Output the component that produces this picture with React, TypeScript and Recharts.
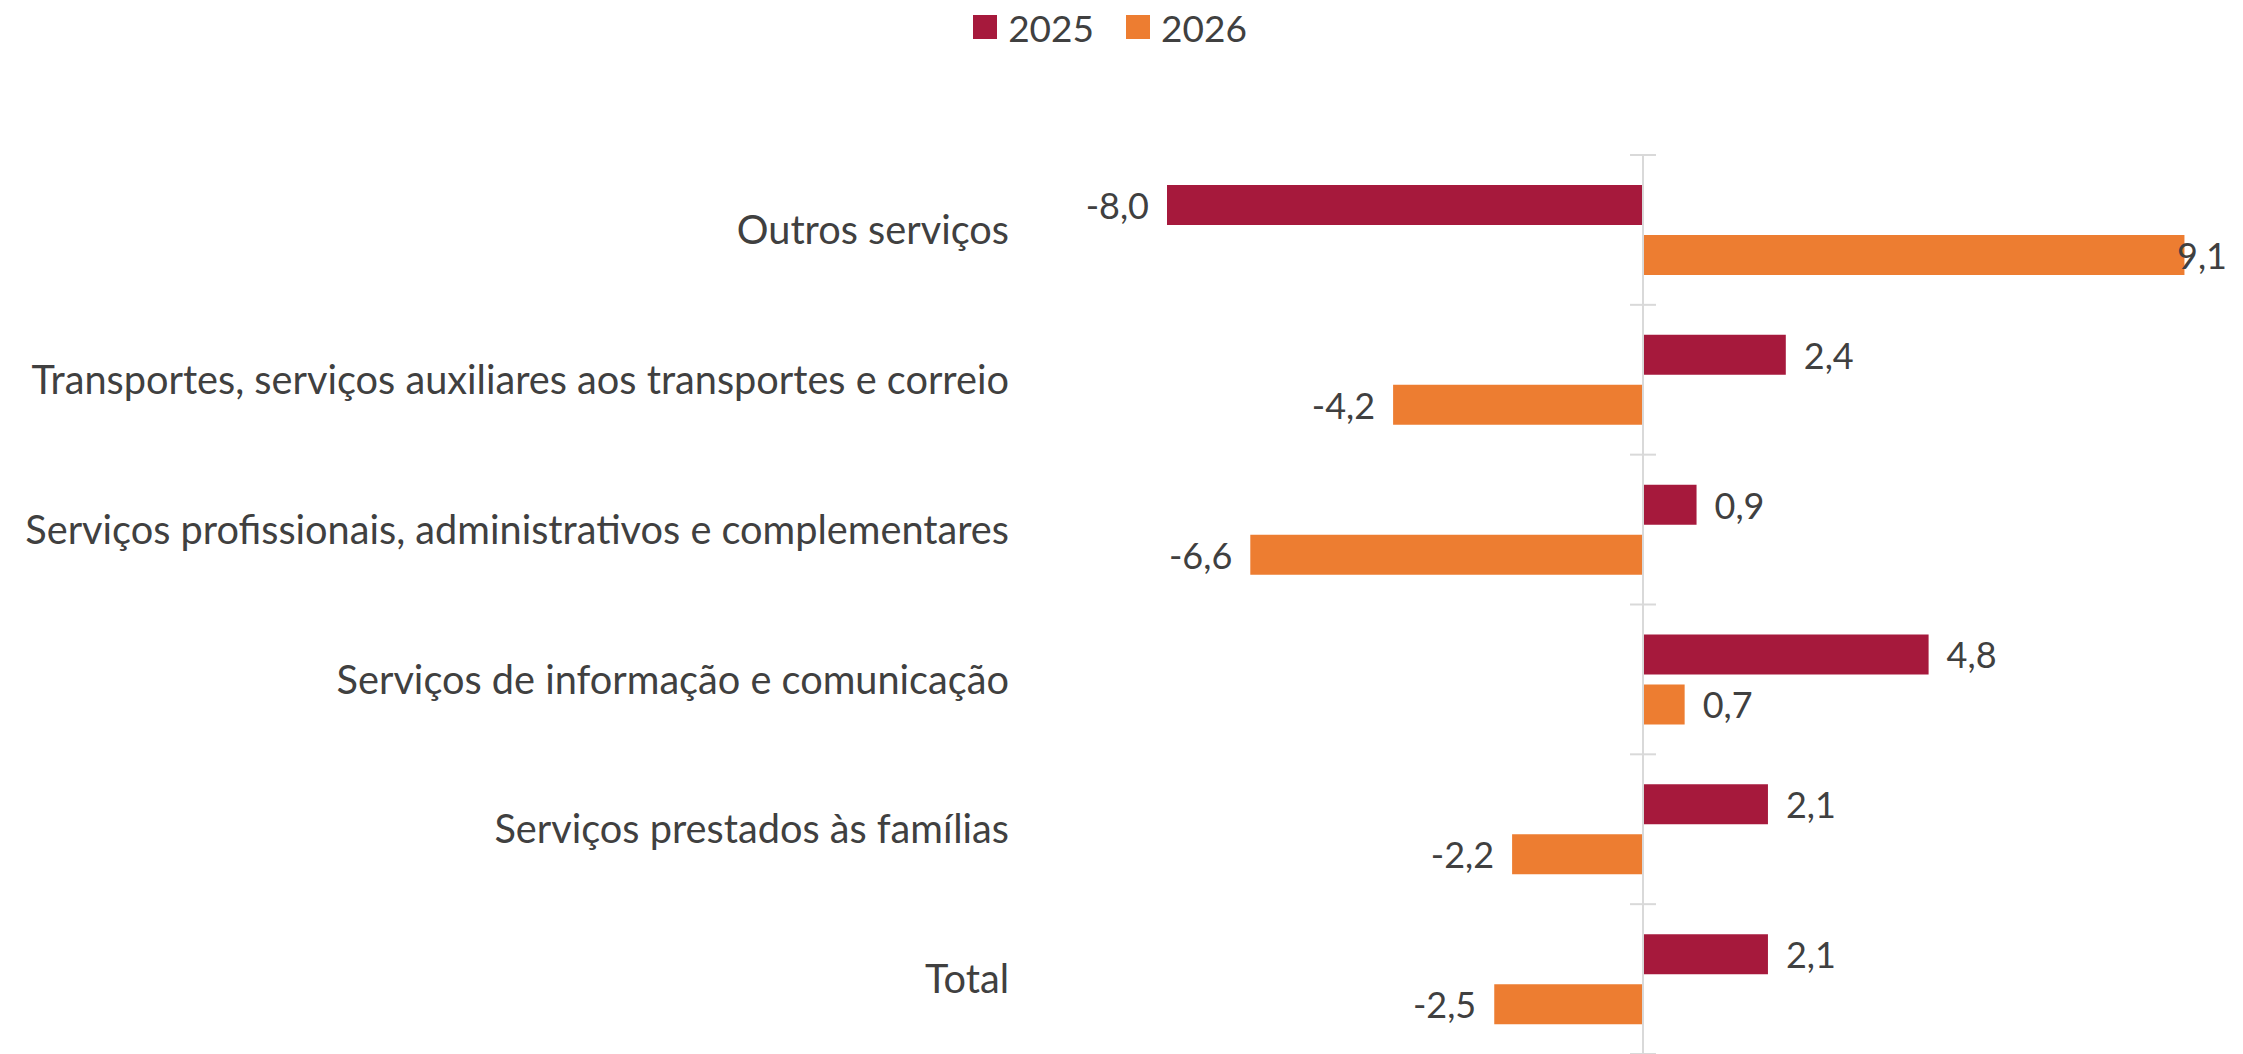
import { BarChart, Bar, XAxis, YAxis, Legend, LabelList, ReferenceLine } from "recharts";

const categories = [
  "Outros serviços",
  "Transportes, serviços auxiliares aos transportes e correio",
  "Serviços profissionais, administrativos e complementares",
  "Serviços de informação e comunicação",
  "Serviços prestados às famílias",
  "Total",
];
const values2025 = [-8.0, 2.4, 0.9, 4.8, 2.1, 2.1];
const values2026 = [9.1, -4.2, -6.6, 0.7, -2.2, -2.5];
const seriesNames = ["2025", "2026"];

const CHART_W = 2243;
const CHART_H = 1054;
const TEXT = "#404040";
const FONT = "Lato, 'Open Sans', sans-serif";
const RED = "#A6193C";
const ORANGE = "#ED7D31";
const AXIS = "#d9d9d9";

const data = categories.map((name, i) => ({
  name,
  v2025: values2025[i],
  v2026: values2026[i],
}));

const fmt = (v: number) => v.toFixed(1).replace(".", ",");

// value label next to the bar end; pulled back inside the chart when it would overflow
function ValueLabel(props: any) {
  const { x, y, width, height, value } = props;
  const fontSize = 36;
  const gap = 18;
  const left = Math.min(x, x + width);
  const right = Math.max(x, x + width);
  const cy = y + height / 2;
  const text = fmt(Number(value));
  let tx = value < 0 ? left - gap : right + gap;
  let anchor: "start" | "end" = value < 0 ? "end" : "start";
  const limit = CHART_W - 16;
  const est = text.length * fontSize * 0.45;
  if (value >= 0 && tx + est > limit) {
    tx = limit;
    anchor = "end";
  }
  return (
    <text
      x={tx}
      y={cy}
      textAnchor={anchor}
      dominantBaseline="central"
      fill={TEXT}
      fontSize={fontSize}
      fontFamily={FONT}
    >
      {text}
    </text>
  );
}

// zero axis with cross ticks at the category band borders
function ZeroAxis(props: any) {
  const { x1, y1, y2 } = props;
  const top = Math.min(y1, y2);
  const bottom = Math.max(y1, y2);
  const step = (bottom - top) / categories.length;
  return (
    <g>
      <line x1={x1} x2={x1} y1={top} y2={bottom} stroke={AXIS} strokeWidth={2} />
      {categories.concat([""]).map((_, i) => (
        <line
          key={i}
          x1={x1 - 13}
          x2={x1 + 13}
          y1={top + i * step}
          y2={top + i * step}
          stroke={AXIS}
          strokeWidth={2}
        />
      ))}
    </g>
  );
}

function LegendContent(props: any) {
  const { payload } = props;
  return (
    <div
      style={{
        height: 54,
        display: "flex",
        alignItems: "center",
        justifyContent: "center",
        paddingRight: 18,
        fontFamily: FONT,
        fontSize: 37,
        color: TEXT,
      }}
    >
      {(payload || []).map((p: any, i: number) => (
        <div
          key={p.value}
          style={{ display: "flex", alignItems: "center", marginLeft: i ? 32 : 0 }}
        >
          <span style={{ width: 24, height: 24, background: p.color, marginRight: 11 }} />
          <span>{p.value}</span>
        </div>
      ))}
    </div>
  );
}

export default function App() {
  return (
    <div style={{ position: "absolute", left: 0, top: 0, background: "#fff" }}>
      <BarChart
        width={CHART_W}
        height={CHART_H}
        data={data}
        layout="vertical"
        margin={{ top: 101, right: 5, left: 0, bottom: 0 }}
        barCategoryGap="20%"
        barGap={10}
      >
        <XAxis type="number" domain={[-10, 10]} hide />
        <YAxis
          type="category"
          dataKey="name"
          width={1048}
          axisLine={false}
          tickLine={false}
          tickSize={0}
          tickMargin={39}
          interval={0}
          tick={{ fill: TEXT, fontSize: 39.7, fontFamily: FONT }}
        />
        <Legend verticalAlign="top" wrapperStyle={{ top: 0 }} content={<LegendContent />} />
        <Bar dataKey="v2025" name={seriesNames[0]} fill={RED} isAnimationActive={false}>
          <LabelList dataKey="v2025" content={<ValueLabel />} />
        </Bar>
        <Bar dataKey="v2026" name={seriesNames[1]} fill={ORANGE} isAnimationActive={false}>
          <LabelList dataKey="v2026" content={<ValueLabel />} />
        </Bar>
        <ReferenceLine x={0} shape={<ZeroAxis />} />
      </BarChart>
    </div>
  );
}
